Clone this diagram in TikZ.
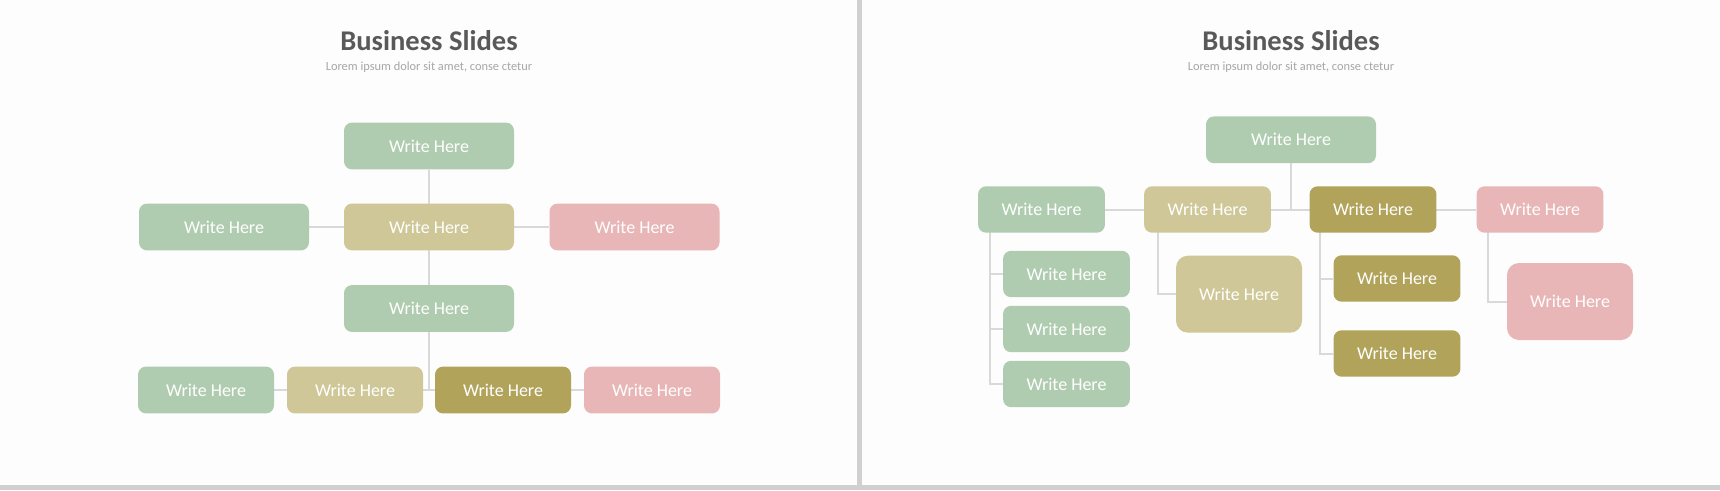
\documentclass[tikz,border=0pt]{standalone}
\usepackage{fontspec}
\setmainfont{Carlito}
\usepackage{tikz}
\usetikzlibrary{positioning}
\definecolor{sage}{HTML}{B0CCB0}
\definecolor{sand}{HTML}{CFC797}
\definecolor{moss}{HTML}{B1A35A}
\definecolor{rose}{HTML}{E8B6B6}
\definecolor{wire}{HTML}{D9D9D9}
\definecolor{paper}{HTML}{FDFDFD}
\definecolor{frame}{HTML}{D0D0D0}
\definecolor{titlegray}{HTML}{595959}
\definecolor{subgray}{HTML}{A6A6A6}
\pgfdeclarelayer{paperlayer}
\pgfdeclarelayer{edgelayer}
\pgfsetlayers{paperlayer,edgelayer,main}
\tikzset{box node/.style={rectangle, rounded corners=2mm, fill=#1, text=white,
    font=\fontsize{12.8}{14}\selectfont, minimum height=11.7mm, inner sep=0pt}}
\tikzset{wide node/.style={box node=#1, minimum width=42.5mm}}
\tikzset{slim node/.style={box node=#1, minimum width=34mm}}
\tikzset{small node/.style={box node=#1, minimum width=31.7mm, minimum height=11.6mm}}
\tikzset{tall node/.style={box node=#1, minimum width=31.5mm, minimum height=19.25mm, rounded corners=3mm}}
\tikzset{regular edge/.style={draw=wire, line width=0.5mm}}
\tikzset{title node/.style={anchor=base, text=titlegray, font=\fontsize{20.3}{24}\selectfont\bfseries}}
\tikzset{sub node/.style={anchor=base, text=subgray, font=\fontsize{8.8}{10}\selectfont}}

\begin{document}
\begin{tikzpicture}
          [x=0.25mm, y=-0.25mm]
          \begin{pgfonlayer}{paperlayer}
            \fill [paper] (0,0) rectangle (1720,490);
            \fill [frame] (857,0) rectangle (862,490);
            \fill [frame] (0,485) rectangle (1720,490);
          \end{pgfonlayer}

          % left slide
          \node [title node]      (ltitle) at ( 429, 50.5) {Business Slides};
          \node [sub node]        (lsub)   at ( 429, 70.5) {Lorem ipsum dolor sit amet, conse ctetur};
          \node [wide node=sage]  (lt0)    at ( 429,146)   {Write Here};
          \node [wide node=sage]  (lm0)    at ( 224,227)   {Write Here};
          \node [wide node=sand]  (lm1)    at ( 429,227)   {Write Here};
          \node [wide node=rose]  (lm2)    at (634.5,227)  {Write Here};
          \node [wide node=sage]  (lc0)    at ( 429,308.5) {Write Here};
          \node [slim node=sage]  (lb0)    at ( 206,390)   {Write Here};
          \node [slim node=sand]  (lb1)    at ( 355,390)   {Write Here};
          \node [slim node=moss]  (lb2)    at ( 503,390)   {Write Here};
          \node [slim node=rose]  (lb3)    at ( 652,390)   {Write Here};

          % right slide
          \node [title node]      (rtitle) at (1291, 50.5) {Business Slides};
          \node [sub node]        (rsub)   at (1291, 70.5) {Lorem ipsum dolor sit amet, conse ctetur};
          \node [wide node=sage]  (rt0)    at (1291,139.8) {Write Here};
          \node [small node=sage] (rm0)    at (1041.5,209.5) {Write Here};
          \node [small node=sand] (rm1)    at (1207.5,209.5) {Write Here};
          \node [small node=moss] (rm2)    at (1373,209.5) {Write Here};
          \node [small node=rose] (rm3)    at (1540,209.5) {Write Here};
          \node [small node=sage] (ra0)    at (1066.5,274) {Write Here};
          \node [small node=sage] (ra1)    at (1066.5,329) {Write Here};
          \node [small node=sage] (ra2)    at (1066.5,384) {Write Here};
          \node [tall node=sand]  (rb0)    at (1239,294.2) {Write Here};
          \node [small node=moss] (rc0)    at (1397,278.5) {Write Here};
          \node [small node=moss] (rc1)    at (1397,353.5) {Write Here};
          \node [tall node=rose]  (rd0)    at (1570,301.5) {Write Here};

          \begin{pgfonlayer}{edgelayer}
            \draw [regular edge]  (lt0) -- (lc0);
            \draw [regular edge]  (lm0) -- (lm2);
            \draw [regular edge]  (lc0) -- (lc0 |- lb0);
            \draw [regular edge]  (lb0) -- (lb3);

            \draw [regular edge]  (rt0) -- (rt0 |- rm0);
            \draw [regular edge]  (rm0) -- (rm3);
            \draw [regular edge]  ([xshift=3mm]rm0.west) |- (ra0);
            \draw [regular edge]  ([xshift=3mm]rm0.west) |- (ra1);
            \draw [regular edge]  ([xshift=3mm]rm0.west) |- (ra2);
            \draw [regular edge]  ([xshift=3.5mm]rm1.west) |- (rb0);
            \draw [regular edge]  ([xshift=2.7mm]rm2.west) |- (rc0);
            \draw [regular edge]  ([xshift=2.7mm]rm2.west) |- (rc1);
            \draw [regular edge]  ([xshift=3mm]rm3.west) |- (rd0);
          \end{pgfonlayer}
        \end{tikzpicture}
\end{document}
